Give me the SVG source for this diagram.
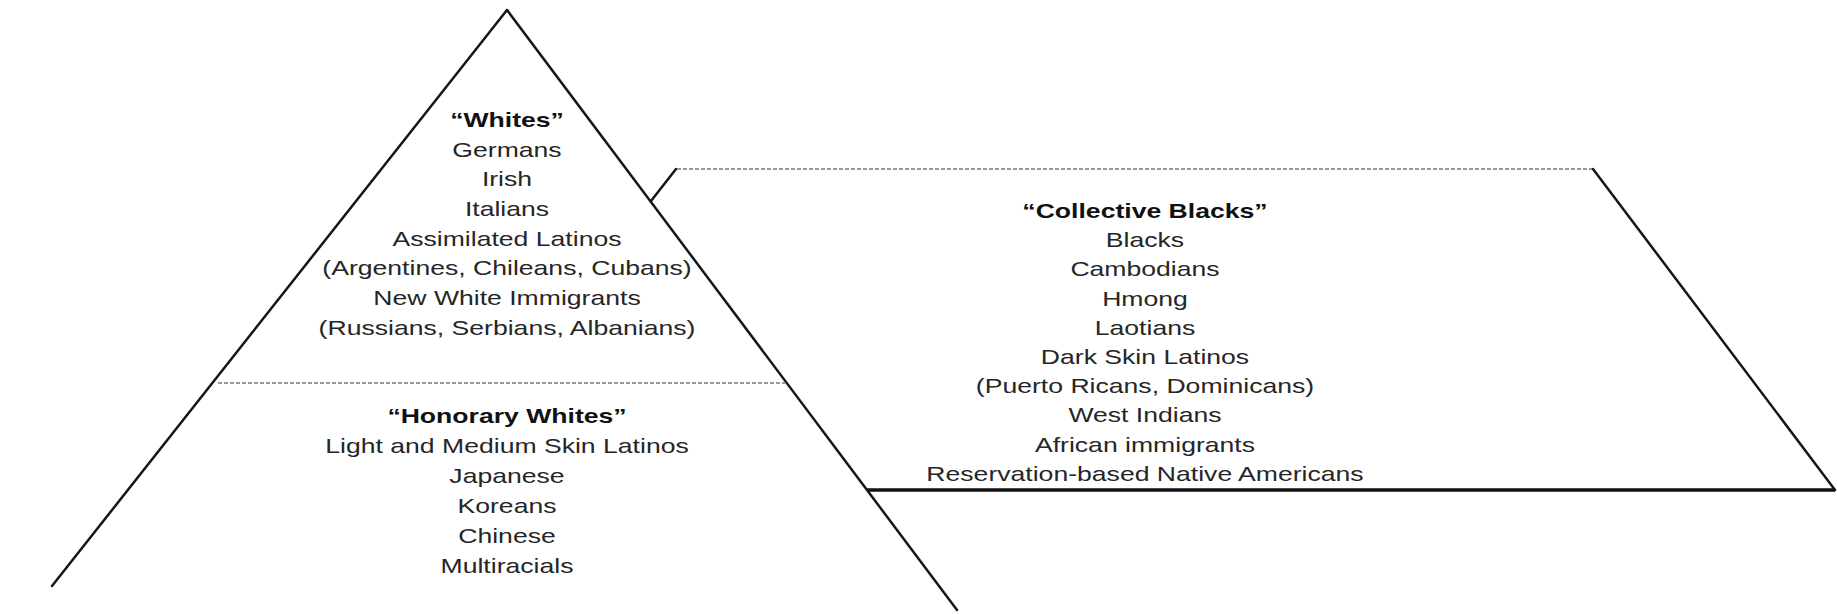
<svg xmlns="http://www.w3.org/2000/svg" width="1837" height="614" viewBox="0 0 1837 614">
<style>
.edge{stroke:#161616;stroke-width:2.5;fill:none;stroke-linecap:round}
.base{stroke:#111;stroke-width:3.5;fill:none}
.dash{stroke:#777;stroke-width:1.6;stroke-dasharray:4 2;fill:none}
text{font-family:"Liberation Sans",Arial,sans-serif;font-size:20px;fill:#262626;text-anchor:middle}
.h{font-weight:bold;fill:#111}
</style>
<rect width="1837" height="614" fill="#fff"/>
<g id="shapes">
<line class="edge" x1="507" y1="10" x2="52" y2="586"/>
<line class="edge" x1="507" y1="10" x2="957" y2="610"/>
<line class="dash" x1="218" y1="383" x2="786" y2="383"/>
<line class="edge" x1="651" y1="201" x2="676" y2="169"/>
<line class="dash" x1="677" y1="169" x2="1592" y2="169"/>
<line class="edge" x1="1593" y1="169" x2="1835" y2="490"/>
<line class="base" x1="867" y1="490" x2="1835" y2="490"/>
</g>
<g id="node-whites" transform="translate(507 0) scale(1.33 1)">
<text class="h" x="0" y="127">“Whites”</text>
<text x="0" y="157">Germans</text>
<text x="0" y="186">Irish</text>
<text x="0" y="216">Italians</text>
<text x="0" y="246">Assimilated Latinos</text>
<text x="0" y="275">(Argentines, Chileans, Cubans)</text>
<text x="0" y="305">New White Immigrants</text>
<text x="0" y="335">(Russians, Serbians, Albanians)</text>
</g>
<g id="node-honorary" transform="translate(507 0) scale(1.33 1)">
<text class="h" x="0" y="423">“Honorary Whites”</text>
<text x="0" y="453">Light and Medium Skin Latinos</text>
<text x="0" y="483">Japanese</text>
<text x="0" y="513">Koreans</text>
<text x="0" y="543">Chinese</text>
<text x="0" y="573">Multiracials</text>
</g>
<g id="node-collective" transform="translate(1145 0) scale(1.33 1)">
<text class="h" x="0" y="218">“Collective Blacks”</text>
<text x="0" y="247">Blacks</text>
<text x="0" y="276">Cambodians</text>
<text x="0" y="306">Hmong</text>
<text x="0" y="335">Laotians</text>
<text x="0" y="364">Dark Skin Latinos</text>
<text x="0" y="393">(Puerto Ricans, Dominicans)</text>
<text x="0" y="422">West Indians</text>
<text x="0" y="452">African immigrants</text>
<text x="0" y="481">Reservation-based Native Americans</text>
</g>
</svg>
